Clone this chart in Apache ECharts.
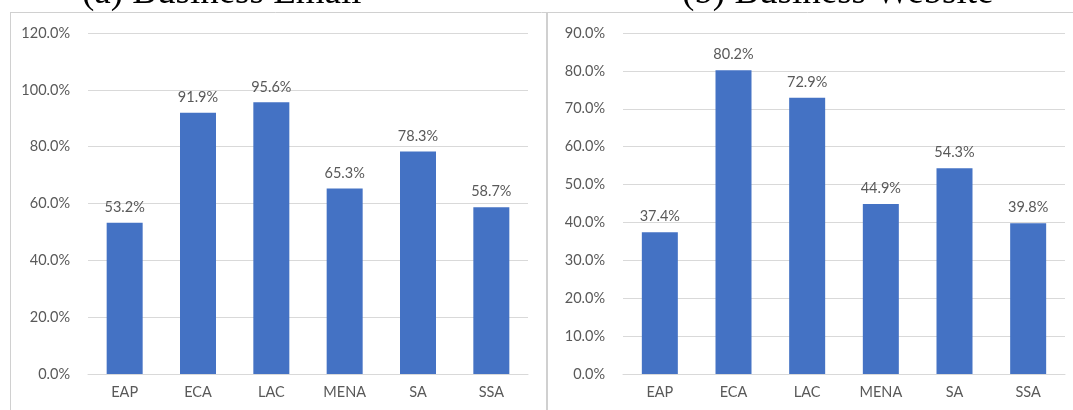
<!DOCTYPE html>
<html>
<head>
<meta charset="utf-8">
<script src="https://cdn.jsdelivr.net/npm/echarts@6/dist/echarts.min.js"></script>
<style>
  html, body { margin: 0; padding: 0; background: #fff; }
  #chart { width: 1073px; height: 410px; }
</style>
</head>
<body>
<div id="chart"></div>
<script>
  "use strict";
  var regions = ['EAP', 'ECA', 'LAC', 'MENA', 'SA', 'SSA'];
  var emailValues = [53.2, 91.9, 95.6, 65.3, 78.3, 58.7];
  var websiteValues = [37.4, 80.2, 72.9, 44.9, 54.3, 39.8];
  var emailTicks = {min: 0, max: 120, interval: 20};
  var websiteTicks = {min: 0, max: 90, interval: 10};

  var labelColor = '#595959';
  var gridColor = '#d9d9d9';
  var font = 'Lato, "Open Sans", sans-serif';

  function pct(v) {
    return v.toFixed(1) + '%';
  }

  function xAxis(idx) {
    return {
      type: 'category',
      gridIndex: idx,
      data: regions,
      axisTick: {show: false},
      axisLine: {lineStyle: {color: gridColor, width: 1}},
      axisLabel: {color: labelColor, fontSize: 14.5, fontFamily: font, margin: 11}
    };
  }

  function yAxis(idx, ticks) {
    return {
      type: 'value',
      gridIndex: idx,
      min: ticks.min,
      max: ticks.max,
      interval: ticks.interval,
      axisLine: {show: false},
      axisTick: {show: false},
      splitLine: {lineStyle: {color: gridColor, width: 1}},
      axisLabel: {
        color: labelColor, fontSize: 14.5, fontFamily: font, margin: 18,
        formatter: function (v) { return pct(v); }
      }
    };
  }

  function barSeries(idx, values) {
    return {
      type: 'bar',
      xAxisIndex: idx,
      yAxisIndex: idx,
      data: values,
      barWidth: 36,
      itemStyle: {color: '#4472C4'},
      label: {
        show: true,
        position: 'top',
        distance: 8,
        color: labelColor,
        fontSize: 14.5,
        fontFamily: font,
        formatter: function (p) { return pct(p.value); }
      }
    };
  }

  var option = {
    animation: false,
    grid: [
      {left: 88, right: 545, top: 33, bottom: 36},
      {left: 623, right: 8, top: 33, bottom: 36}
    ],
    xAxis: [xAxis(0), xAxis(1)],
    yAxis: [yAxis(0, emailTicks), yAxis(1, websiteTicks)],
    series: [barSeries(0, emailValues), barSeries(1, websiteValues)],
    graphic: [
      {type: 'line', shape: {x1: 10, y1: 12.5, x2: 1073, y2: 12.5}, style: {stroke: '#d0d0d0', lineWidth: 1}},
      {type: 'line', shape: {x1: 10.5, y1: 12, x2: 10.5, y2: 410}, style: {stroke: '#d0d0d0', lineWidth: 1}},
      {type: 'line', shape: {x1: 547, y1: 12, x2: 547, y2: 410}, style: {stroke: '#d0d0d0', lineWidth: 2}},
      {
        type: 'text', x: 82, y: -7,
        style: {text: '(a) Business Email', font: '37px "Liberation Serif", serif', fill: '#000', verticalAlign: 'middle'}
      },
      {
        type: 'text', x: 682, y: -7,
        style: {text: '(b) Business Website', font: '37px "Liberation Serif", serif', fill: '#000', verticalAlign: 'middle'}
      }
    ]
  };

  var chart = echarts.init(document.getElementById('chart'));
  chart.setOption(option);
</script>
</body>
</html>
